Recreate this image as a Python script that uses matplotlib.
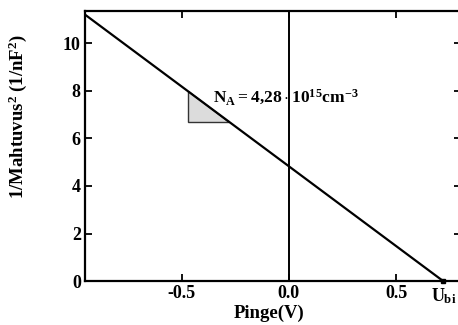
import matplotlib.pyplot as plt
import matplotlib.transforms as mtransforms

plt.rcParams['font.family'] = 'Liberation Serif'
plt.rcParams['font.weight'] = 'bold'
plt.rcParams['mathtext.fontset'] = 'custom'
plt.rcParams['mathtext.rm'] = 'Liberation Serif:bold'
plt.rcParams['mathtext.it'] = 'Liberation Serif:bold'
plt.rcParams['mathtext.bf'] = 'Liberation Serif:bold'

# Mott-Schottky fit: 1/C^2 against bias voltage
voltage = [-0.95, 0.72]
inv_c2 = [11.2, 0.0]
u_bi = 0.72

# slope triangle
tri_x = [-0.47, -0.47, -0.28]
tri_y = [8.0, 6.68, 6.68]

xticks = [-0.5, 0.0, 0.5]
xticklabels = ['-0.5', '0.0', '0.5']
yticks = [0, 2, 4, 6, 8, 10]

fig = plt.figure(figsize=(4.58, 3.25), dpi=100)
ax = fig.add_axes([0.1856, 0.135, 0.822, 0.831])

ax.plot(voltage, inv_c2, color='black', lw=1.6, solid_capstyle='butt')
ax.fill(tri_x, tri_y, facecolor='#dcdcdc', edgecolor='#333333', lw=1.0)
ax.axvline(0.0, color='black', lw=1.4)
ax.plot([u_bi], [0], marker='s', ms=3.5, color='black', clip_on=False)

ax.text(-0.352, 7.5, r'$N_A = 4{,}28 \cdot 10^{15} cm^{-3}$', fontsize=12.5)

ax.set_xlim(-0.95, 0.805)
ax.set_ylim(0, 11.35)
ax.set_xticks(xticks)
ax.set_xticklabels(xticklabels)
ax.set_yticks(yticks)
ax.tick_params(direction='in', length=5, width=1.3, labelsize=13,
               top=True, right=True, pad=3)
for s in ax.spines.values():
    s.set_linewidth(1.6)

trans = mtransforms.blended_transform_factory(ax.transData, ax.transAxes)
ax.text(u_bi, -0.02, r'$U_{bi}$', transform=trans, ha='center', va='top', fontsize=13)

ax.set_xlabel('Pinge(V)', fontsize=13.5, fontweight='bold')
ax.set_ylabel(r'1/Mahtuvus$^2$ (1/nF$^2$)', fontsize=13.5, fontweight='bold')
ax.xaxis.set_label_coords(0.49, -0.088)
ax.yaxis.set_label_coords(-0.15, 0.61)

fig.savefig('out.png', dpi=100)
